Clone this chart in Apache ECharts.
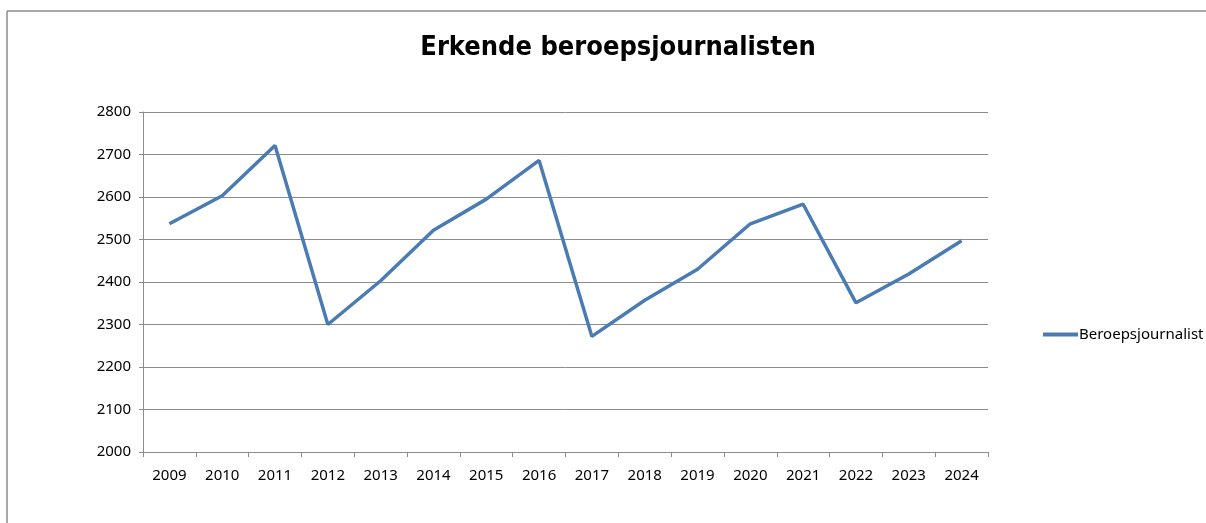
<!DOCTYPE html>
<html>
<head>
<meta charset="utf-8">
<script src="https://cdn.jsdelivr.net/npm/echarts@6/dist/echarts.min.js"></script>
<style>
  html, body { margin: 0; padding: 0; background: #fff; }
  #main { width: 1206px; height: 523px; }
</style>
</head>
<body>
<div id="main"></div>
<script>
// jaren op de x-as
const years = ["2009", "2010", "2011", "2012", "2013", "2014", "2015", "2016",
  "2017", "2018", "2019", "2020", "2021", "2022", "2023", "2024"];
const journalists = [2537, 2603, 2721, 2300, 2403, 2522, 2595, 2686,
  2272, 2357, 2430, 2537, 2583, 2351, 2419, 2497];
const seriesName = "Beroepsjournalist";
const titleText = "Erkende beroepsjournalisten";

const gray = "#8c8c8c";
const blue = "#4A7CB3";
const labelFont = { fontFamily: "Noto Sans", fontSize: 15, color: "#000" };

const chart = echarts.init(document.getElementById("main"));
chart.setOption({
  animation: false,
  backgroundColor: "#fff",
  title: {
    text: titleText,
    left: 613,
    textAlign: "center",
    top: 29,
    textStyle: {
      fontFamily: "DejaVu Sans Condensed",
      fontWeight: "bold",
      fontSize: 27,
      color: "#000",
    },
  },
  legend: {
    left: 1038,
    top: 322,
    itemWidth: 35,
    itemHeight: 4,
    itemGap: 4,
    icon: "rect",
    textStyle: Object.assign({}, labelFont, { padding: [0, 0, 0, -4] }),
    data: [seriesName],
  },
  grid: { left: 143, right: 218, top: 112, bottom: 71 },
  xAxis: {
    type: "category",
    data: years,
    boundaryGap: true,
    axisLine: { lineStyle: { color: gray, width: 1 } },
    axisTick: { show: true, length: 5, lineStyle: { color: gray } },
    axisLabel: Object.assign({}, labelFont, { margin: 16 }),
  },
  yAxis: {
    type: "value",
    min: 2000,
    max: 2800,
    interval: 100,
    axisLine: { show: true, lineStyle: { color: gray, width: 1 } },
    axisTick: { show: true, length: 4, lineStyle: { color: gray } },
    axisLabel: Object.assign({}, labelFont, { margin: 12, formatter: (v) => String(v) }),
    splitLine: { lineStyle: { color: gray, width: 1 } },
  },
  series: [
    {
      name: seriesName,
      type: "line",
      data: journalists,
      symbol: "none",
      lineStyle: { color: blue, width: 3.5 },
      itemStyle: { color: blue },
    },
  ],
  // kader van de grafiek
  graphic: [
    { type: "line", shape: { x1: 7, y1: 11, x2: 1206, y2: 11 }, style: { stroke: gray, lineWidth: 1.5 } },
    { type: "line", shape: { x1: 7, y1: 11, x2: 7, y2: 523 }, style: { stroke: gray, lineWidth: 1.5 } },
  ],
});
</script>
</body>
</html>
